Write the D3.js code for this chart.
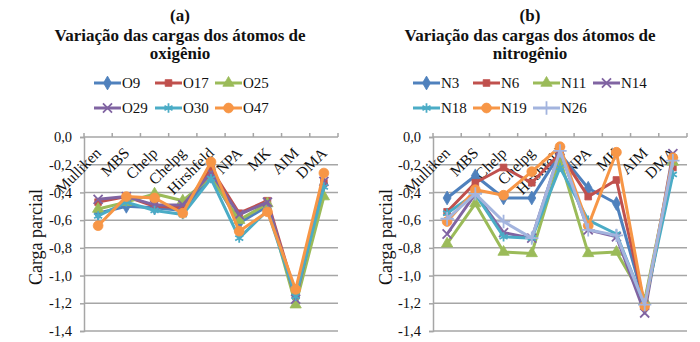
<!DOCTYPE html>
<html>
<head>
<meta charset="utf-8">
<script src="https://cdn.jsdelivr.net/npm/d3@7/dist/d3.min.js"></script>
<style>
  body { margin: 0; background: #fff; }
  text { font-family: "Liberation Serif", "Times New Roman", serif; fill: #111; }
</style>
</head>
<body>
<div id="container"></div>
<script>
// ---- data ----
let categories = ["Mulliken", "MBS", "Chelp", "Chelpg", "Hirshfeld", "NPA", "MK", "AIM", "DMA"];
let yTicks = [0, -0.2, -0.4, -0.6, -0.8, -1.0, -1.2, -1.4];

let oxygenNames = ["O9", "O17", "O25", "O29", "O30", "O47"];
let O9  = [-0.55, -0.50, -0.51, -0.53, -0.28, -0.62, -0.50, -1.16, -0.34];
let O17 = [-0.47, -0.43, -0.50, -0.51, -0.23, -0.55, -0.46, -1.14, -0.33];
let O25 = [-0.52, -0.47, -0.41, -0.46, -0.29, -0.60, -0.48, -1.21, -0.43];
let O29 = [-0.45, -0.43, -0.49, -0.49, -0.26, -0.56, -0.47, -1.17, -0.32];
let O30 = [-0.57, -0.47, -0.53, -0.56, -0.30, -0.73, -0.53, -1.15, -0.36];
let O47 = [-0.64, -0.43, -0.44, -0.55, -0.18, -0.68, -0.54, -1.10, -0.26];

let nitrogenNames = ["N3", "N6", "N11", "N14", "N18", "N19", "N26"];
let N3  = [-0.44, -0.28, -0.44, -0.44, -0.12, -0.37, -0.48, -1.20, -0.19];
let N6  = [-0.54, -0.33, -0.22, -0.33, -0.12, -0.43, -0.31, -1.21, -0.22];
let N11 = [-0.77, -0.48, -0.83, -0.84, -0.16, -0.84, -0.83, -1.18, -0.18];
let N14 = [-0.70, -0.41, -0.69, -0.73, -0.10, -0.67, -0.72, -1.27, -0.12];
let N18 = [-0.55, -0.41, -0.72, -0.73, -0.22, -0.60, -0.70, -1.21, -0.27];
let N19 = [-0.61, -0.38, -0.42, -0.25, -0.07, -0.64, -0.11, -1.22, -0.15];
let N26 = [-0.59, -0.41, -0.61, -0.73, -0.10, -0.67, -0.71, -1.21, -0.17];

let colors = ["#4F81BD", "#C0504D", "#9BBB59", "#8064A2", "#4BACC6", "#F79646", "#A3B4DE"];
let symbols = [d3.symbolDiamond, d3.symbolSquare, d3.symbolTriangle, d3.symbolX, d3.symbolAsterisk, d3.symbolCircle, d3.symbolPlus];
let symbolSizes = [55, 45, 55, 55, 60, 75, 60];
let strokeSymbols = [false, false, false, true, true, false, true];

let w = 700;
let h = 342;

let viz = d3.select("#container")
  .append("svg")
    .attr("width", w)
    .attr("height", h)
    .style("background-color", "#fff");

function marker(sel, i){
  sel.attr("d", d3.symbol().type(symbols[i]).size(symbolSizes[i]))
    .attr("fill", strokeSymbols[i] ? "none" : colors[i])
    .attr("stroke", colors[i])
    .attr("stroke-width", strokeSymbols[i] ? 1.8 : 0.8);
}

function drawPanel(opts){
  let g = viz.append("g");

  // titles
  g.append("text").attr("x", opts.cx).attr("y", 21).attr("text-anchor", "middle")
    .style("font-size", "17px").style("font-weight", "bold").text(opts.letter);
  g.append("text").attr("x", opts.cx).attr("y", 41).attr("text-anchor", "middle")
    .style("font-size", "17px").style("font-weight", "bold").text("Variação das cargas dos átomos de");
  g.append("text").attr("x", opts.cx).attr("y", 59).attr("text-anchor", "middle")
    .style("font-size", "17px").style("font-weight", "bold").text(opts.title2);

  // legend
  opts.names.forEach((name, i)=>{
    let lx = opts.legendX[i % opts.perRow];
    let ly = 83 + Math.floor(i / opts.perRow) * 25;
    let lg = g.append("g").attr("transform", "translate(" + lx + "," + ly + ")");
    lg.append("line").attr("x1", 0).attr("x2", 27).attr("y1", 0).attr("y2", 0)
      .attr("stroke", colors[i]).attr("stroke-width", 3);
    lg.append("path").attr("transform", "translate(13.5,0)").call(marker, i);
    lg.append("text").attr("x", 28).attr("y", 5).style("font-size", "15px").text(name);
  });

  let xScale = d3.scaleBand().domain(categories).range([opts.left, opts.right]);
  let yScale = d3.scaleLinear().domain([-1.4, 0]).range([331, 137]);

  // gridlines
  g.append("g").selectAll("line").data(yTicks).enter().append("line")
    .attr("x1", opts.left).attr("x2", opts.right)
    .attr("y1", d=>yScale(d)).attr("y2", d=>yScale(d))
    .attr("stroke", "#a6a6a6").attr("stroke-width", 1.5);

  // y axis
  let yAxis = d3.axisLeft(yScale).tickValues(yTicks).tickSize(4)
    .tickFormat(d=>d3.format(".1f")(d).replace(".", ",").replace("−", "-"));
  let yAxisGroup = g.append("g").attr("transform", "translate(" + opts.left + ",0)").call(yAxis);
  yAxisGroup.select(".domain").attr("stroke", "#a6a6a6").attr("stroke-width", 1.5);
  yAxisGroup.selectAll(".tick line").attr("stroke", "#a6a6a6").attr("stroke-width", 1.5);
  yAxisGroup.selectAll(".tick text").attr("x", -12)
    .style("font-family", "'Liberation Serif', serif").style("font-size", "14.5px").attr("fill", "#111");

  // x axis tick marks at band boundaries (axis crosses at 0)
  let bounds = categories.map(c=>xScale(c)).concat([opts.right]);
  g.append("g").selectAll("line").data(bounds).enter().append("line")
    .attr("x1", d=>d).attr("x2", d=>d).attr("y1", yScale(0) - 4).attr("y2", yScale(0))
    .attr("stroke", "#a6a6a6").attr("stroke-width", 1.5);

  // category labels
  g.append("g").selectAll("text").data(categories).enter().append("text")
    .attr("transform", d=>"translate(" + (xScale(d) + xScale.bandwidth() / 2 + 4) + "," + (yScale(0) + 17) + ") rotate(-45)")
    .attr("text-anchor", "end")
    .style("font-size", "15.5px")
    .text(d=>d);

  // y axis title
  g.append("text")
    .attr("transform", "translate(" + opts.titleX + "," + 237 + ") rotate(-90)")
    .attr("text-anchor", "middle")
    .style("font-size", "18px")
    .text("Carga parcial");

  // series
  let line = d3.line()
    .x((d, j)=>xScale(categories[j]) + xScale.bandwidth() / 2)
    .y(d=>yScale(d));

  opts.series.forEach((vals, i)=>{
    let sg = g.append("g").attr("class", "series");
    sg.append("path").datum(vals).attr("d", line)
      .attr("fill", "none").attr("stroke", colors[i]).attr("stroke-width", 3)
      .attr("stroke-linejoin", "round");
    sg.selectAll("path.mk").data(vals).enter().append("path").attr("class", "mk")
      .attr("transform", (d, j)=>"translate(" + (xScale(categories[j]) + xScale.bandwidth() / 2) + "," + yScale(d) + ")")
      .call(marker, i);
  });
}

drawPanel({
  letter: "(a)", title2: "oxigênio", cx: 180,
  names: oxygenNames, series: [O9, O17, O25, O29, O30, O47],
  legendX: [94, 155, 215], perRow: 3,
  left: 84, right: 338, titleX: 42
});

drawPanel({
  letter: "(b)", title2: "nitrogênio", cx: 530,
  names: nitrogenNames, series: [N3, N6, N11, N14, N18, N19, N26],
  legendX: [413, 473, 533, 593], perRow: 4,
  left: 433, right: 687, titleX: 392
});
</script>
</body>
</html>
